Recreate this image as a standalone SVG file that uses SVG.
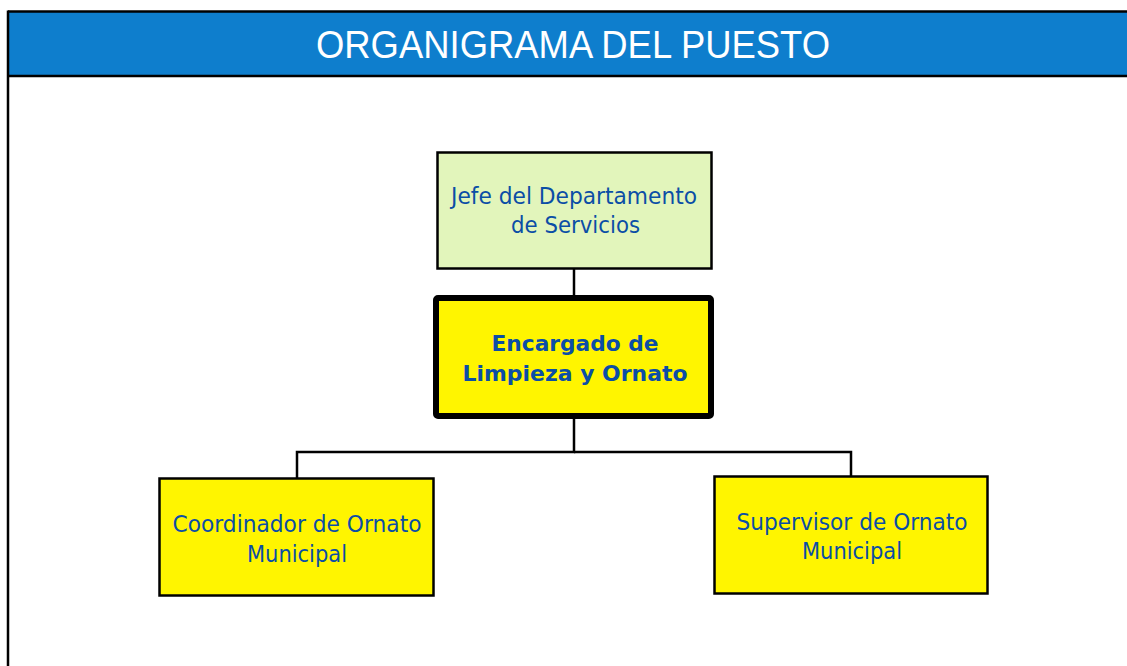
<svg xmlns="http://www.w3.org/2000/svg" width="1127" height="666" viewBox="0 0 1127 666">
<style>
.box{stroke:#000;stroke-width:2.5}
.lbl{font-family:"DejaVu Sans",Verdana,sans-serif;font-size:23px;fill:#0b4ea6;text-anchor:middle}
.bold{font-weight:bold;font-size:22px}
.conn{fill:none;stroke:#000;stroke-width:2.5}
</style>
<rect x="0" y="0" width="1127" height="666" fill="#fff"/>
<g id="header">
<rect x="8" y="12" width="1125" height="64" fill="#0e7ecd"/>
<line x1="8" y1="11.5" x2="1127" y2="11.5" stroke="#000" stroke-width="2.5"/>
<line x1="8" y1="76" x2="1127" y2="76" stroke="#000" stroke-width="2.5"/>
<line x1="8" y1="10.5" x2="8" y2="666" stroke="#000" stroke-width="2.5"/>
<text x="573" y="58" font-family="'Liberation Sans',Arial,sans-serif" font-size="39" fill="#fff" text-anchor="middle" textLength="514" lengthAdjust="spacingAndGlyphs">ORGANIGRAMA DEL PUESTO</text>
</g>
<g id="connectors">
<line class="conn" x1="574" y1="269" x2="574" y2="296"/>
<polyline class="conn" points="574,418 574,452 297,452 297,478"/>
<polyline class="conn" points="574,452 851,452 851,476"/>
</g>
<g id="jefe">
<rect class="box" x="437.5" y="152.5" width="274" height="116" fill="#e2f5bb"/>
<text class="lbl" x="574" y="204" textLength="246" lengthAdjust="spacingAndGlyphs">Jefe del Departamento</text>
<text class="lbl" x="575.5" y="233" textLength="129" lengthAdjust="spacingAndGlyphs">de Servicios</text>
</g>
<g id="encargado">
<rect x="436" y="298" width="275" height="118" rx="2" fill="#fff500" stroke="#000" stroke-width="6"/>
<text class="lbl bold" x="575" y="351" textLength="167" lengthAdjust="spacingAndGlyphs">Encargado de</text>
<text class="lbl bold" x="575" y="381" textLength="225" lengthAdjust="spacingAndGlyphs">Limpieza y Ornato</text>
</g>
<g id="coordinador">
<rect class="box" x="159.5" y="478.5" width="274" height="117" fill="#fff500"/>
<text class="lbl" x="297" y="532" textLength="249" lengthAdjust="spacingAndGlyphs">Coordinador de Ornato</text>
<text class="lbl" x="297" y="562" textLength="100" lengthAdjust="spacingAndGlyphs">Municipal</text>
</g>
<g id="supervisor">
<rect class="box" x="714.5" y="476.5" width="273" height="117" fill="#fff500"/>
<text class="lbl" x="852" y="530" textLength="231" lengthAdjust="spacingAndGlyphs">Supervisor de Ornato</text>
<text class="lbl" x="852" y="559" textLength="100" lengthAdjust="spacingAndGlyphs">Municipal</text>
</g>
</svg>
